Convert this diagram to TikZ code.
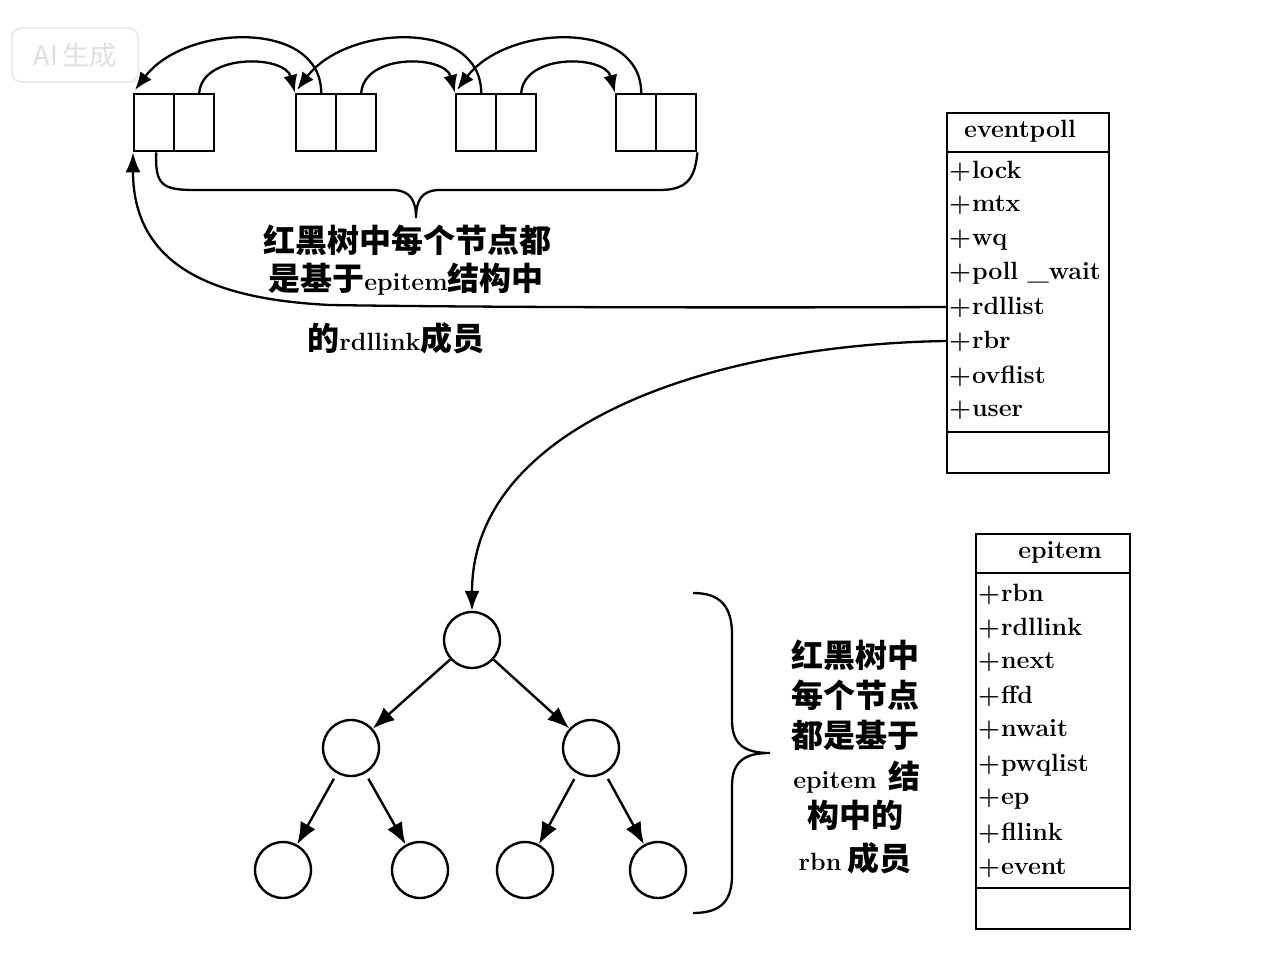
\documentclass[tikz,border=0pt]{standalone}
\usepackage{fontspec}
\newfontfamily\cjk{Noto Sans CJK SC}
\newfontfamily\wmfont{Noto Sans CJK SC}
\usetikzlibrary{arrows.meta}
\newcommand{\zhtext}[1]{{\cjk\bfseries\fontsize{32}{36}\selectfont #1}}
\tikzset{
  lw/.style={line width=2.4pt},
  cell/.style={draw, lw, minimum width=40pt, minimum height=57pt, inner sep=0pt, anchor=north west},
  umlbox/.style={draw, lw, inner sep=0pt, anchor=north west},
  field/.style={anchor=west, inner sep=0pt, font=\bfseries\fontsize{25}{30}\selectfont},
  title/.style={inner sep=0pt, font=\bfseries\fontsize{25}{30}\selectfont},
  lbl/.style={inner sep=0pt, font=\bfseries\fontsize{25}{34}\selectfont},
  treenode/.style={circle, draw, lw, minimum size=56pt, inner sep=0pt},
  link/.style={line width=2.3pt, -{Latex[length=18pt,width=14pt]}},
  longlink/.style={line width=2.3pt, -{Latex[length=20pt,width=15pt]}},
  treearrow/.style={line width=2.4pt, -{Latex[length=22pt,width=17pt]}},
  brace/.style={line width=2.3pt}
}
\begin{document}
\begin{tikzpicture}[x=1pt,y=-1pt]
\useasboundingbox (0,0) rectangle (1271,968);
\fill[white] (0,0) rectangle (1271,968);

% watermark
\node[draw=gray!18, line width=1.5pt, rounded corners=9pt, minimum width=126pt, minimum height=54pt,
      text=gray!25, font=\wmfont\fontsize{27}{30}\selectfont] (wm) at (75,55) {AI\,生成};

% linked list cells
\node[cell] (b1l) at (133,93) {};
\node[cell] (b1r) at (173,93) {};
\node[cell] (b2l) at (295,93) {};
\node[cell] (b2r) at (335,93) {};
\node[cell] (b3l) at (455,93) {};
\node[cell] (b3r) at (495,93) {};
\node[cell] (b4l) at (615,93) {};
\node[cell] (b4r) at (655,93) {};

% forward (small) arcs
\draw[link] ([xshift=5pt]b1r.north) .. controls +(3,-40) and +(-10,-38) .. (b2l.north west);
\draw[link] ([xshift=5pt]b2r.north) .. controls +(3,-40) and +(-10,-38) .. (b3l.north west);
\draw[link] ([xshift=5pt]b3r.north) .. controls +(3,-40) and +(-10,-38) .. (b4l.north west);
% backward (large) arcs
\draw[link] ([xshift=5pt]b2l.north) .. controls +(0,-74) and +(50,-66) .. ([xshift=2pt,yshift=3pt]b1l.north west);
\draw[link] ([xshift=5pt]b3l.north) .. controls +(0,-74) and +(50,-66) .. ([xshift=2pt,yshift=3pt]b2l.north west);
\draw[link] ([xshift=5pt]b4l.north) .. controls +(0,-74) and +(50,-66) .. ([xshift=2pt,yshift=3pt]b3l.north west);

% brace under the list
\draw[brace] ([xshift=2pt]b1l.south) .. controls (155,185) and (162,190) .. (195,190) -- (392,190)
  .. controls (410,190) and (416,200) .. (416,218)
  .. controls (416,200) and (422,190) .. (440,190) -- (660,190)
  .. controls (690,190) and (695,175) .. (b4r.south east);

% labels for the list
\node[lbl] (lab1) at (407,240) {\zhtext{红黑树中每个节点都}};
\node[lbl] (lab2) at (406,279) {\zhtext{是基于}epitem\zhtext{结构中}};
\node[lbl] (lab3) at (396,338) {\zhtext{的}rdllink\zhtext{成员}};

% eventpoll class box
\node[umlbox, minimum width=162pt, minimum height=360pt] (ep) at (946,112) {};
\draw[lw] (ep.west |- 0,152) -- (ep.east |- 0,152);
\draw[lw] (ep.west |- 0,432) -- (ep.east |- 0,432);
\node[title] (ept) at (1020,131) {eventpoll};
\node[field] (ep-lock)  at (949,171) {+\hspace{1pt}lock};
\node[field] (ep-mtx)   at (949,205) {+\hspace{1pt}mtx};
\node[field] (ep-wq)    at (949,240) {+\hspace{1pt}wq};
\node[field] (ep-poll)  at (949,273) {+\hspace{1pt}poll \_wait};
\node[field] (ep-rdl)   at (949,307) {+\hspace{1pt}rdllist};
\node[field] (ep-rbr)   at (949,341) {+\hspace{1pt}rbr};
\node[field] (ep-ovf)   at (949,376) {+\hspace{1pt}ovflist};
\node[field] (ep-user)  at (949,410) {+\hspace{1pt}user};

% epitem class box
\node[umlbox, minimum width=154pt, minimum height=395pt] (ei) at (975,533) {};
\draw[lw] (ei.west |- 0,573) -- (ei.east |- 0,573);
\draw[lw] (ei.west |- 0,888) -- (ei.east |- 0,888);
\node[title] (eit) at (1060,552) {epitem};
\node[field] (ei-rbn)  at (978,594) {+\hspace{1pt}rbn};
\node[field] (ei-rdl)  at (978,628) {+\hspace{1pt}rdllink};
\node[field] (ei-next) at (978,662) {+\hspace{1pt}next};
\node[field] (ei-ffd)  at (978,696) {+\hspace{1pt}ffd};
\node[field] (ei-nw)   at (978,730) {+\hspace{1pt}nwait};
\node[field] (ei-pwq)  at (978,765) {+\hspace{1pt}pwqlist};
\node[field] (ei-ep)   at (978,799) {+\hspace{1pt}ep};
\node[field] (ei-fl)   at (978,833) {+\hspace{1pt}fllink};
\node[field] (ei-ev)   at (978,868) {+\hspace{1pt}event};

% tree
\node[treenode] (root) at (472,640) {};
\node[treenode] (n1) at (351,748) {};
\node[treenode] (n2) at (591,748) {};
\node[treenode] (n11) at (283,870) {};
\node[treenode] (n12) at (420,870) {};
\node[treenode] (n21) at (525,870) {};
\node[treenode] (n22) at (658,870) {};
\draw[treearrow] (root) -- (n1);
\draw[treearrow] (root) -- (n2);
\draw[treearrow, shorten <=6pt] (n1) -- (n11);
\draw[treearrow, shorten <=6pt] (n1) -- (n12);
\draw[treearrow, shorten <=6pt] (n2) -- (n21);
\draw[treearrow, shorten <=6pt] (n2) -- (n22);

% connectors from eventpoll
\draw[longlink] (ep.west |- ep-rdl) .. controls (700,308) and (450,307) .. (330,305)
  .. controls (230,300) and (133,275) .. (b1l.south west);
\draw[longlink] (ep.west |- ep-rbr) .. controls (700,345) and (472,430) .. (root.north);

% right brace and text
\draw[brace] (693,593) .. controls (722,593) and (732,608) .. (732,635) -- (732,720)
  .. controls (732,745) and (745,753) .. (770,753)
  .. controls (745,753) and (732,761) .. (732,786) -- (732,875)
  .. controls (732,900) and (722,913) .. (693,913);
\node[lbl] (r1) at (855,655) {\zhtext{红黑树中}};
\node[lbl] (r2) at (855,695) {\zhtext{每个节点}};
\node[lbl] (r3) at (855,735) {\zhtext{都是基于}};
\node[lbl] (r4) at (857,777) {epitem\hspace{12pt}\zhtext{结}};
\node[lbl] (r5) at (855,815) {\zhtext{构中的}};
\node[lbl] (r6) at (855,858) {rbn\hspace{6pt}\zhtext{成员}};
\end{tikzpicture}
\end{document}
